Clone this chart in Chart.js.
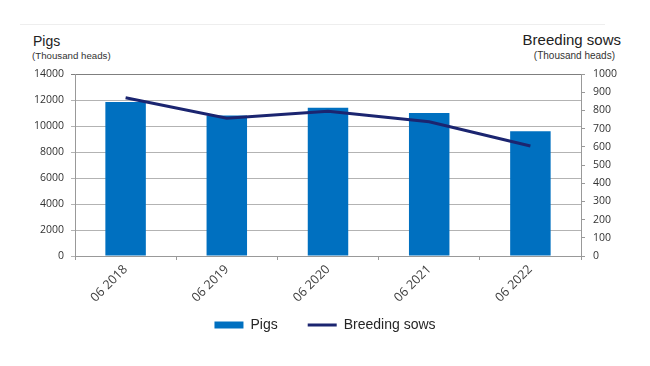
<!DOCTYPE html>
<html>
<head>
<meta charset="utf-8">
<title>Pigs and breeding sows</title>
<script src="https://cdn.jsdelivr.net/npm/chart.js@4.4.1/dist/chart.umd.min.js"></script>
<style>
  html, body { margin: 0; padding: 0; background: #fff; }
  .wrap { position: relative; width: 650px; height: 366px; font-family: 'Liberation Sans', Arial, sans-serif; }
  .wrap canvas { position: absolute; left: 0; top: 0; }
  .sep { position: absolute; left: 20px; top: 24px; width: 585px; border-top: 1px solid #eeeeee; }
  .ttl { position: absolute; line-height: 16px; color: #222; white-space: nowrap; }
  .sub { position: absolute; line-height: 11px; color: #333; white-space: nowrap; }
</style>
</head>
<body>
<div class="wrap">
  <div class="sep"></div>
  <div class="ttl" style="left:33px; top:33px; font-size:14px">Pigs</div>
  <div class="sub" style="left:32px; top:50px; font-size:9.7px">(Thousand heads)</div>
  <div class="ttl" style="right:29px; top:32px; font-size:15px">Breeding sows</div>
  <div class="sub" style="right:35px; top:50px; font-size:10px">(Thousand heads)</div>
  <canvas id="chart" width="650" height="366"></canvas>
</div>

<script>
/* ---------- data ---------- */
const categories = ['06 2018', '06 2019', '06 2020', '06 2021', '06 2022'];
const pigs       = [11850, 10800, 11400, 11000, 9600];   // thousand heads, left axis
const sows       = [870, 757, 795, 738, 604];            // thousand heads, right axis
const pigTicks   = { min: 0, max: 14000, step: 2000 };
const sowTicks   = { min: 0, max: 1000,  step: 100 };

/* ---------- chart ---------- */
const tickFont  = { family: "'Open Sans', Lato, sans-serif", size: 10.5 };
const tickColor = '#333333';
const axisColor = '#999999';

// the x labels need a tall scale box (they are clipped to it),
// so the legend is pulled back up after layout
const legendLift = {
  id: 'legendLift',
  afterLayout(chart) {
    const lg = chart.legend;
    if (!lg) return;
    lg.top -= 24;
    lg.bottom -= 24;
  }
};

new Chart(document.getElementById('chart'), {
  data: {
    labels: categories,
    datasets: [
      {
        type: 'bar',
        label: 'Pigs',
        data: pigs,
        yAxisID: 'y',
        backgroundColor: '#0070c0',
        borderWidth: 0,
        barPercentage: 0.4,
        categoryPercentage: 1,
        order: 1
      },
      {
        type: 'line',
        label: 'Breeding sows',
        data: sows,
        yAxisID: 'y1',
        borderColor: '#1b2570',
        backgroundColor: '#1b2570',
        borderWidth: 3,
        pointRadius: 0,
        tension: 0,
        order: 0
      }
    ]
  },
  plugins: [legendLift],
  options: {
    responsive: false,
    animation: false,
    layout: { padding: { top: 74, left: 0, right: 0, bottom: 0 } },
    plugins: {
      tooltip: { enabled: false },
      legend: {
        position: 'bottom',
        reverse: true,
        labels: {
          usePointStyle: true,
          pointStyleWidth: 29,
          boxHeight: 7,
          padding: 30,
          color: '#262626',
          font: { family: "'Liberation Sans', Arial, sans-serif", size: 14 },
          generateLabels: chart =>
            Chart.defaults.plugins.legend.labels.generateLabels(chart).map(l => {
              const ds = chart.data.datasets[l.datasetIndex];
              l.pointStyle = ds.type === 'line' ? 'line' : 'rect';
              return l;
            })
        }
      }
    },
    scales: {
      x: {
        offset: true,
        grid: { display: true, drawOnChartArea: false, offset: true, color: axisColor, tickLength: 4 },
        border: { color: axisColor },
        ticks: { minRotation: 45, maxRotation: 45, padding: 2, font: { ...tickFont, size: 12.5 }, color: '#404040' },
        afterFit: s => { s.height = 56; }
      },
      y: {
        position: 'left',
        min: pigTicks.min, max: pigTicks.max,
        grid: {
          color: c => (c.tick && c.tick.value === pigTicks.max) ? '#7f7f7f' : '#b3b3b3',
          tickLength: 4
        },
        border: { color: axisColor },
        ticks: { stepSize: pigTicks.step, padding: 7, font: tickFont, color: tickColor, callback: v => String(v) },
        afterFit: s => { s.width = 75; }
      },
      y1: {
        position: 'right',
        min: sowTicks.min, max: sowTicks.max,
        grid: { drawOnChartArea: false, color: axisColor, tickLength: 4 },
        border: { color: axisColor },
        ticks: { stepSize: sowTicks.step, padding: 8, font: tickFont, color: tickColor, callback: v => String(v) },
        afterFit: s => { s.width = 69; }
      }
    }
  }
});
</script>
</body>
</html>
